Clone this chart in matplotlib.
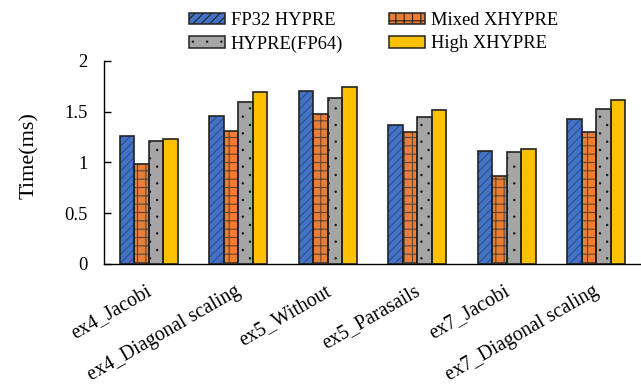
import matplotlib
matplotlib.use("Agg")
import matplotlib.pyplot as plt
import matplotlib.hatch as mhatch
from matplotlib.path import Path
from matplotlib.patches import Patch
import numpy as np

categories = ["ex4_Jacobi", "ex4_Diagonal scaling", "ex5_Without", "ex5_Parasails",
              "ex7_Jacobi", "ex7_Diagonal scaling"]
series_names = ["FP32 HYPRE", "Mixed XHYPRE", "HYPRE(FP64)", "High XHYPRE"]
fp32_hypre = [1.26, 1.46, 1.70, 1.37, 1.11, 1.43]
mixed_xhypre = [0.99, 1.31, 1.48, 1.30, 0.87, 1.30]
hypre_fp64 = [1.21, 1.60, 1.64, 1.45, 1.10, 1.53]
high_xhypre = [1.23, 1.69, 1.74, 1.52, 1.13, 1.62]
yticks = [0, 0.5, 1, 1.5, 2]
ytick_labels = ["0", "0.5", "1", "1.5", "2"]

face_colors = ["#4472C4", "#ED7D31", "#A5A5A5", "#FFC000"]
hatch_colors = ["#2F4E8A", "#5B4636", "#1a1a1a", "#FFC000"]
hatches = ["////", "++", ".", ""]


# Sparse staggered dot texture (columns staggered) for the '.' hatch
class StaggeredDots(mhatch.HatchPatternBase):
    size = 0.013

    def __init__(self, hatch, density):
        n = hatch.count('.')
        self.nx = 14 * n
        self.ny = 6 * n
        circ = Path.unit_circle()
        self.shape_vertices = circ.vertices
        self.shape_codes = circ.codes
        cnt = 0
        if n:
            for c in range(self.nx + 1):
                cnt += (self.ny + 1) if c % 2 == 0 else self.ny
        self.num_vertices = cnt * len(self.shape_vertices)

    def set_vertices_and_codes(self, vertices, codes):
        sv = self.shape_vertices * self.size / 2
        vp, cp = [], []
        for c in range(self.nx + 1):
            xx = c / self.nx
            if c % 2 == 0:
                ys = [j / self.ny for j in range(self.ny + 1)]
            else:
                ys = [(j + 0.5) / self.ny for j in range(self.ny)]
            for yy in ys:
                vp.append(sv + [xx, yy])
                cp.append(self.shape_codes)
        vertices[:] = np.concatenate(vp)
        codes[:] = np.concatenate(cp)


try:
    mhatch._hatch_types = [StaggeredDots if t is mhatch.SmallFilledCircles else t
                           for t in mhatch._hatch_types]
except Exception:
    pass

plt.rcParams['font.family'] = ['Liberation Serif', 'DejaVu Serif']
plt.rcParams['hatch.linewidth'] = 0.8

fig = plt.figure(figsize=(6.41, 3.89), dpi=100)
ax = fig.add_axes([104/641, 125/389, 537/641, 203/389])

x = np.arange(len(categories))
width = 0.161
values = [fp32_hypre, mixed_xhypre, hypre_fp64, high_xhypre]
handles = []
for k, vals in enumerate(values):
    pos = x + (k - 1.5) * width
    ax.bar(pos, vals, width, color=face_colors[k], hatch=hatches[k],
           edgecolor=hatch_colors[k], linewidth=0, zorder=2)
    ax.bar(pos, vals, width, fill=False, edgecolor="#222222", linewidth=1.2, zorder=3)
    handles.append(Patch(facecolor=face_colors[k], hatch=hatches[k],
                         edgecolor="#222222", linewidth=1.1))

ax.set_xlim(-0.5, len(categories) - 0.5)
ax.set_ylim(0, 2)
ax.set_yticks(yticks)
ax.set_yticklabels(ytick_labels, fontsize=13.3)
ax.tick_params(axis='y', direction='in', length=5, width=1, pad=12)
ax.set_xticks([])
for s in ["top", "right"]:
    ax.spines[s].set_visible(False)
ax.spines["left"].set_linewidth(1)
ax.spines["bottom"].set_linewidth(1)
ax.set_ylabel("Time(ms)", fontsize=16)
ax.yaxis.set_label_coords(-0.121, 0.532)

for i, lab in enumerate(categories):
    ax.text(x[i] - 0.035, -0.177, lab, rotation=30, ha='right', va='top',
            rotation_mode='anchor', fontsize=14.3, transform=ax.transData)

order = [0, 2, 1, 3]
leg = fig.legend([handles[j] for j in order], [series_names[j] for j in order],
                 loc='upper left', ncol=2,
                 bbox_to_anchor=(189/641, 1 - 12/389), frameon=False,
                 fontsize=13.3, handlelength=1.95, handleheight=0.62,
                 handletextpad=0.3, columnspacing=2.5, labelspacing=0.35,
                 borderpad=0, borderaxespad=0)

fig.savefig("out.png", dpi=100)
